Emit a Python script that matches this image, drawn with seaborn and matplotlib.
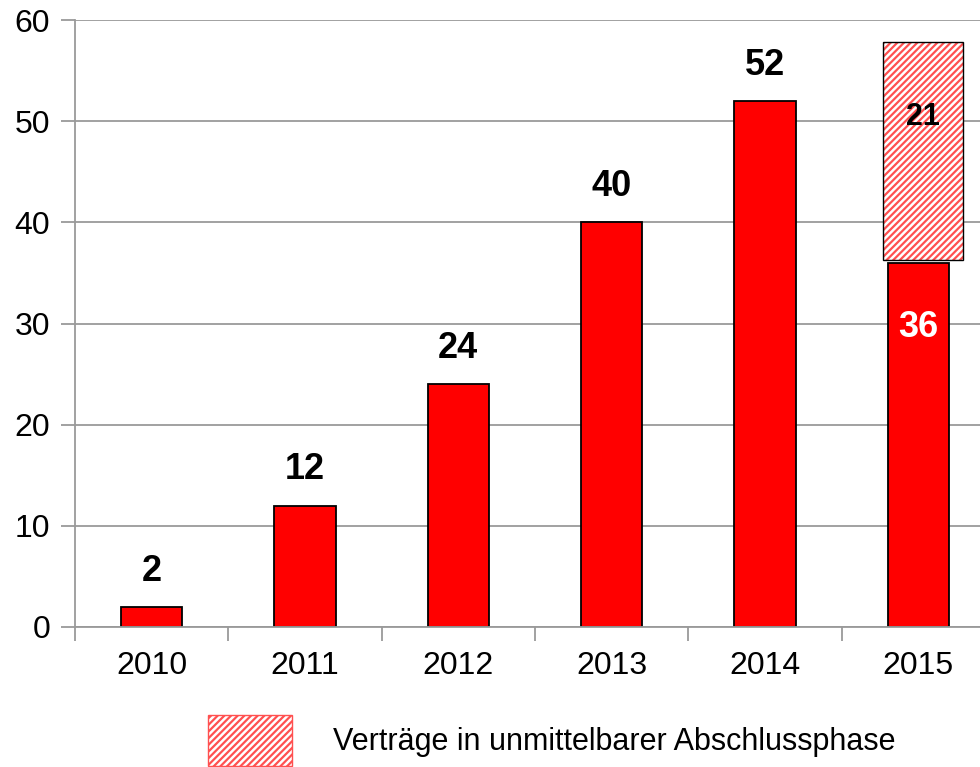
import matplotlib
matplotlib.use("Agg")
import matplotlib.pyplot as plt
import seaborn as sns
import pandas as pd
from matplotlib.patches import Patch

# data
years = ["2010", "2011", "2012", "2013", "2014", "2015"]
contracts = [2, 12, 24, 40, 52, 36]
pending_bottom = 36.3
pending_height = 21.5
pending_label = "21"
legend_text = "Verträge in unmittelbarer Abschlussphase"

df = pd.DataFrame({"year": years, "contracts": contracts})

sns.set_style("white")
plt.rcParams["font.family"] = ["Liberation Sans", "DejaVu Sans"]
plt.rcParams["hatch.linewidth"] = 1.6

fig = plt.figure(figsize=(9.8, 7.67), dpi=100)
ax = fig.add_axes([75 / 980, 1 - 627 / 767, 920 / 980, 607 / 767])

grey = "#9a9a9a"
ax.set_axisbelow(True)
ax.yaxis.grid(True, color=grey, linewidth=1.3)

sns.barplot(data=df, x="year", y="contracts", color="#ff0000", saturation=1,
            width=0.40, edgecolor="black", linewidth=1.3, ax=ax)

# hatched part on top of 2015
last = len(years) - 1
ax.bar(last + 0.03, pending_height, bottom=pending_bottom, width=0.52,
       color="white", hatch="/////", edgecolor="#ff5050", linewidth=0, zorder=3)
ax.bar(last + 0.03, pending_height, bottom=pending_bottom, width=0.52,
       fill=False, edgecolor="black", linewidth=1.0, zorder=4)

# value labels
for i, v in enumerate(contracts):
    if i == last:
        ax.text(i, v - 6.4, str(v), ha="center", va="center", color="white",
                fontsize=26, fontweight="bold", zorder=5)
    else:
        ax.text(i, v + 1.8, str(v), ha="center", va="bottom", color="black",
                fontsize=26, fontweight="bold", zorder=5)
ax.text(last + 0.03, 50.4, pending_label, ha="center", va="center",
        color="black", fontsize=22, fontweight="bold", zorder=5)

ax.set_ylim(0, 60)
ax.set_xlim(-0.5, len(years) - 0.5)
ax.set_yticks(range(0, 61, 10))
ax.set_xlabel("")
ax.set_ylabel("")

for s in ["top", "right"]:
    ax.spines[s].set_visible(False)
for s in ["left", "bottom"]:
    ax.spines[s].set_color(grey)
    ax.spines[s].set_linewidth(1.3)

ax.tick_params(axis="y", which="major", left=True, length=10, width=1.3,
               color=grey, labelsize=23, labelcolor="black", pad=8)
ax.tick_params(axis="x", which="major", bottom=False, labelsize=23,
               labelcolor="black", pad=14)
ax.set_xticks([i + 0.5 for i in range(-1, len(years))], minor=True)
ax.tick_params(axis="x", which="minor", bottom=True, length=10, width=1.3,
               color=grey)

handle = Patch(facecolor="white", edgecolor="#ff5050", hatch="/////",
               linewidth=1.0)
fig.legend([handle], [legend_text], loc="upper left",
           bbox_to_anchor=(208 / 980, 1 - 715 / 767), frameon=False,
           handlelength=2.75, handleheight=2.2, handletextpad=1.35,
           borderpad=0, borderaxespad=0, labelcolor="black",
           prop={"size": 22})

fig.savefig("out.png", dpi=100)
